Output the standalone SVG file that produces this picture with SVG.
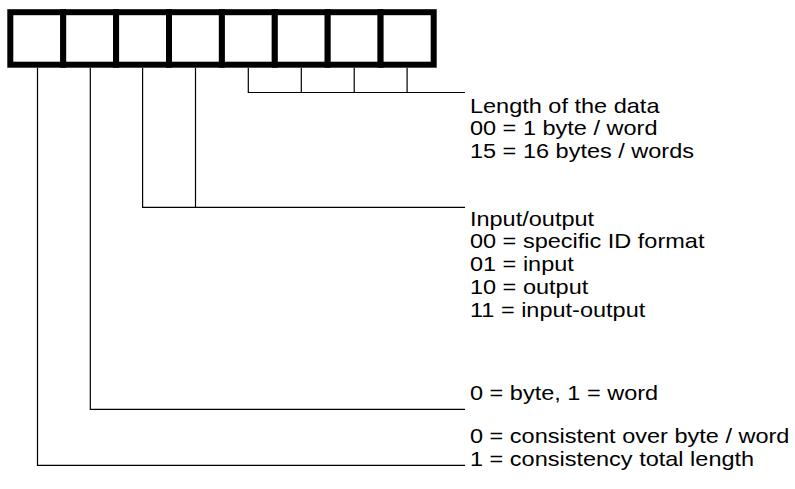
<svg xmlns="http://www.w3.org/2000/svg" width="795" height="489" viewBox="0 0 795 489">
<style>
.cell{fill:#fff;stroke:#000;stroke-width:6}
.c{fill:none;stroke:#000;stroke-width:1.2}
text{font-family:"Liberation Sans",Arial,sans-serif;font-size:21px;fill:#000}
.lbl{transform:scale(1.12,1)}
</style>
<rect width="795" height="489" fill="#fff"/>
<g id="bit7"><rect class="cell" x="10.3" y="12.2" width="52.9" height="52.5"/></g>
<g id="bit6"><rect class="cell" x="63.2" y="12.2" width="52.9" height="52.5"/></g>
<g id="bit5"><rect class="cell" x="116.1" y="12.2" width="52.9" height="52.5"/></g>
<g id="bit4"><rect class="cell" x="169" y="12.2" width="52.9" height="52.5"/></g>
<g id="bit3"><rect class="cell" x="221.9" y="12.2" width="52.9" height="52.5"/></g>
<g id="bit2"><rect class="cell" x="274.8" y="12.2" width="52.9" height="52.5"/></g>
<g id="bit1"><rect class="cell" x="327.7" y="12.2" width="52.9" height="52.5"/></g>
<g id="bit0"><rect class="cell" x="380.6" y="12.2" width="53.1" height="52.5"/></g>
<g id="connectors">
<path class="c" d="M248.3 67.7V92.5H465M301.3 67.7V92.5M354.2 67.7V92.5M407.1 67.7V92.5"/>
<path class="c" d="M142.6 67.7V207.3H465M195.5 67.7V207.3"/>
<path class="c" d="M90.3 67.7V409.3H465"/>
<path class="c" d="M37.5 67.7V465.3H465"/>
</g>
<g id="label-length" transform="scale(1.12 1)">
<text x="419.6" y="112.7">Length of the data</text>
<text x="419.6" y="135.5">00 = 1 byte / word</text>
<text x="419.6" y="158.3">15 = 16 bytes / words</text>
</g>
<g id="label-io" transform="scale(1.12 1)">
<text x="419.6" y="225.7">Input/output</text>
<text x="419.6" y="248.5">00 = specific ID format</text>
<text x="419.6" y="271.3">01 = input</text>
<text x="419.6" y="294.1">10 = output</text>
<text x="419.6" y="317">11 = input-output</text>
</g>
<g id="label-bw" transform="scale(1.12 1)">
<text x="419.6" y="400">0 = byte, 1 = word</text>
</g>
<g id="label-consistency" transform="scale(1.12 1)">
<text x="419.6" y="443.3">0 = consistent over byte / word</text>
<text x="419.6" y="466.5">1 = consistency total length</text>
</g>
</svg>
